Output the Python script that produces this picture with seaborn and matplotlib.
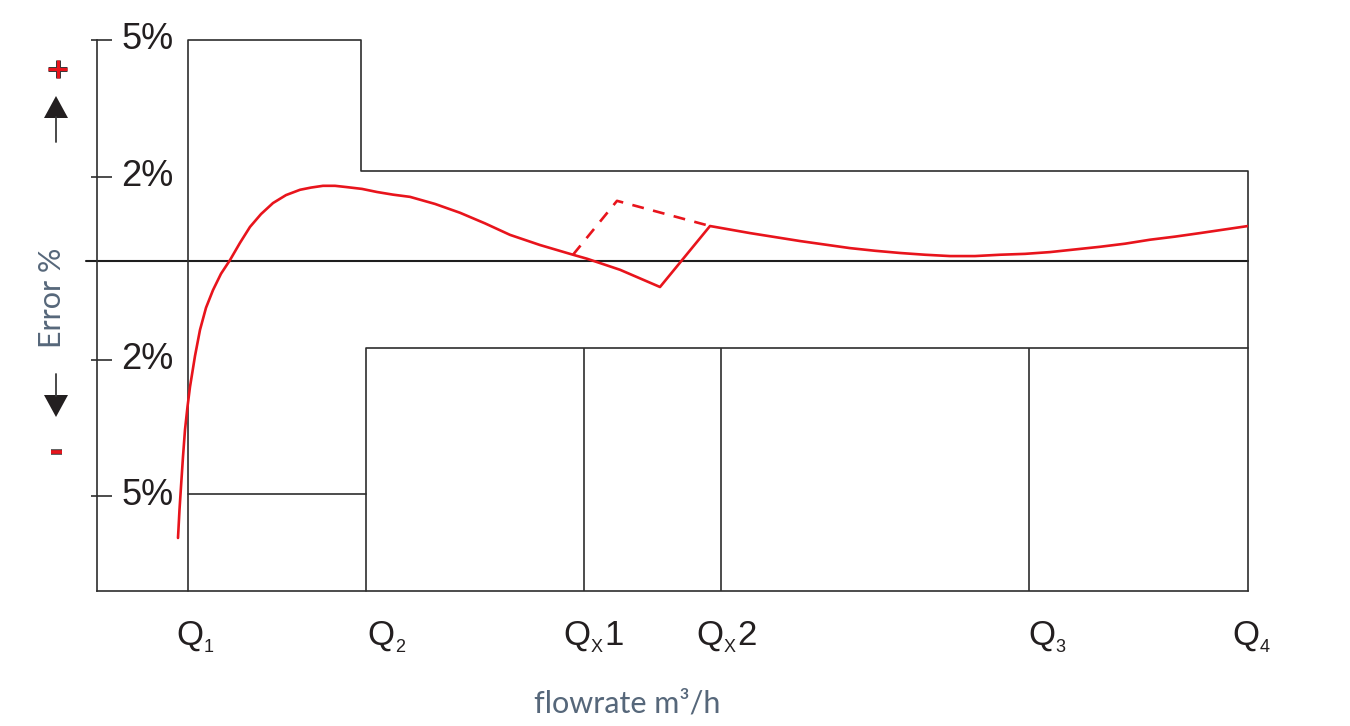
import numpy as np
import pandas as pd
import matplotlib
matplotlib.use("Agg")
import matplotlib.pyplot as plt
import seaborn as sns
from matplotlib.patches import Polygon
from matplotlib.lines import Line2D
from matplotlib.transforms import Affine2D

# ---------------- data ----------------
# flow-rate marks (schematic x units)
q_pos = [0.91, 2.69, 4.87, 6.24, 9.32, 11.51]
q_sub = ["1", "2", "X", "X", "3", "4"]
q_suffix = ["", "", "1", "2", "", ""]

# y-axis tick marks (schematic error units) and their labels
tick_pos = [5.0, 1.90, -2.24, -5.32]
tick_labels = ["5%", "2%", "2%", "5%"]

# upper tolerance envelope
upper_x = [0.91, 0.91, 2.64, 2.64, 11.51, 11.51]
upper_y = [-7.47, 5.0, 5.0, 2.04, 2.04, -7.47]
# lower tolerance envelope
lower_low_x = [0.91, 2.69]
lower_low_y = [-5.27, -5.27]
lower_x = [2.69, 2.69, 11.51]
lower_y = [-7.47, -1.96, -1.96]
divider_x = [4.87, 6.24, 9.32]
lower_top = -1.96

# meter error curve (solid)
curve_x = [0.81, 0.825, 0.84, 0.86, 0.88, 0.905, 0.93, 0.98, 1.03, 1.09, 1.16, 1.24,
           1.33, 1.43, 1.53, 1.64, 1.76, 1.89, 2.03, 2.14, 2.26, 2.38, 2.50, 2.65,
           2.80, 2.96, 3.13, 3.38, 3.63, 3.88, 4.13, 4.43, 4.76, 4.90, 5.23, 5.63,
           6.13, 6.33, 6.53, 6.78, 7.03, 7.28, 7.53, 7.78, 8.03, 8.28, 8.53, 8.78,
           9.03, 9.28, 9.53, 9.78, 10.03, 10.28, 10.53, 10.78, 11.03, 11.27, 11.51]
curve_y = [-6.27, -5.63, -5.11, -4.43, -3.82, -3.30, -2.85, -2.15, -1.56, -1.06, -0.66, -0.29,
           0.02, 0.41, 0.77, 1.06, 1.31, 1.49, 1.61, 1.66, 1.70, 1.70, 1.67, 1.63,
           1.56, 1.50, 1.45, 1.29, 1.09, 0.85, 0.59, 0.36, 0.14, 0.05, -0.20, -0.59,
           0.79, 0.71, 0.63, 0.54, 0.45, 0.37, 0.29, 0.23, 0.18, 0.14, 0.11, 0.11,
           0.14, 0.16, 0.20, 0.26, 0.32, 0.39, 0.48, 0.55, 0.63, 0.71, 0.79]
# alternative (dashed) path
dash_x = [4.76, 5.20, 6.13]
dash_y = [0.14, 1.36, 0.79]

# ---------------- style ----------------
sns.set_theme(style="white")
plt.rcParams["font.family"] = ["Liberation Sans", "DejaVu Sans"]
plt.rcParams["lines.solid_joinstyle"] = "round"

W, H = 1350, 726
fig = plt.figure(figsize=(W / 100, H / 100), dpi=100)
fig.patch.set_facecolor("white")
ax = fig.add_axes([97 / W, 1 - 591 / H, (1248 - 97) / W, (591 - 40) / H])
ax.set_xlim(0, 11.51)
ax.set_ylim(-7.47, 5.0)
ax.set_facecolor("white")

LC = "#2e2e2e"
LW = 1.2
RED = "#e8141c"

for s in ["top", "right"]:
    ax.spines[s].set_visible(False)
for s in ["left", "bottom"]:
    ax.spines[s].set_color(LC)
    ax.spines[s].set_linewidth(LW)
ax.set_xticks([])
ax.set_yticks([])

# tick marks and labels on y
ax.hlines(tick_pos, -0.06, 0.15, color=LC, lw=LW, clip_on=False)
for yp, lab in zip(tick_pos, tick_labels):
    ax.text(0.245, yp, lab, ha="left", va="center", fontsize=26, color="#231f20")

# zero line
ax.plot([-0.11, 11.51], [0, 0], color="#1e1e1e", lw=1.5, clip_on=False)

# envelopes
ax.plot(upper_x, upper_y, color=LC, lw=LW, clip_on=False)
ax.plot(lower_low_x, lower_low_y, color=LC, lw=LW)
ax.plot(lower_x, lower_y, color=LC, lw=LW, clip_on=False)
ax.vlines(divider_x, -7.47, lower_top, color=LC, lw=LW)

# error curve
sns.lineplot(x=curve_x, y=curve_y, sort=False, estimator=None, color=RED, lw=1.9, ax=ax)
sns.lineplot(x=dash_x, y=dash_y, sort=False, estimator=None, color=RED, lw=1.9, ax=ax)
ax.lines[-1].set_dashes([4.5, 3.6])

# x labels
fig.canvas.draw()
renderer = fig.canvas.get_renderer()
label_left = [0.79, 2.70, 4.66, 5.99, 9.31, 11.35]
for xl, sub, suf in zip(label_left, q_sub, q_suffix):
    xf = ax.transData.transform((xl, 0))[0] / W
    t = fig.text(xf, 1 - 645 / H, "Q", fontsize=25, color="#231f20", ha="left", va="baseline")
    bb = t.get_window_extent(renderer)
    ts = fig.text(bb.x1 / W + 0.0005, 1 - 652 / H, sub, fontsize=13, color="#231f20",
                  ha="left", va="baseline")
    if suf:
        bb2 = ts.get_window_extent(renderer)
        fig.text(bb2.x1 / W + 0.001, 1 - 645 / H, suf, fontsize=25, color="#231f20",
                 ha="left", va="baseline")

# axis titles
AC = "#56677a"
fig.text(52 / W, 1 - 298 / H, "Error %", rotation=90, ha="center", va="center",
         fontsize=22, color=AC, family=["Lato", "DejaVu Sans"], fontweight="normal")
fig.text(627 / W, 1 - 713 / H, "flowrate m³/h", ha="center", va="baseline",
         fontsize=22, color=AC, family=["Lato", "DejaVu Sans"], fontweight="normal")

# direction arrows and signs (figure pixel coords)
px = Affine2D().scale(1 / W, -1 / H).translate(0, 1) + fig.transFigure
fig.add_artist(Line2D([56, 56], [117, 142], color="#3a3a3a", lw=1.3, transform=px))
fig.add_artist(Polygon([(44, 118), (68, 118), (56, 96)], closed=True, fc="#231f20",
                       ec="none", transform=px))
fig.add_artist(Line2D([56, 56], [374, 396], color="#3a3a3a", lw=1.3, transform=px))
fig.add_artist(Polygon([(44, 395), (68, 395), (56, 417)], closed=True, fc="#231f20",
                       ec="none", transform=px))
# plus
for lw, c in [(3.6, "#3a3a3a"), (2.2, RED)]:
    fig.add_artist(Line2D([48, 67], [69, 69], color=c, lw=lw, transform=px,
                          solid_capstyle="butt"))
    fig.add_artist(Line2D([57.5, 57.5], [60, 78], color=c, lw=lw, transform=px,
                          solid_capstyle="butt"))
# minus
for lw, c in [(4.0, "#3a3a3a"), (2.6, RED)]:
    fig.add_artist(Line2D([51, 62], [452, 452], color=c, lw=lw, transform=px,
                          solid_capstyle="butt"))

fig.savefig("out.png", dpi=100, facecolor="white")
